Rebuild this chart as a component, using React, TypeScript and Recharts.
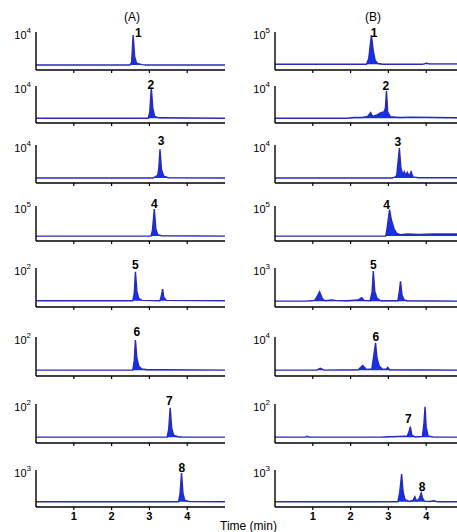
import { Area, AreaChart, ReferenceDot, ReferenceLine, XAxis, YAxis } from "recharts";

type Pt = [number, number];

// retention time (min) vs. normalised signal
const traceA1: Pt[] = [[0, 0.13], [2.48, 0.13], [2.53, 0.2], [2.57, 0.92], [2.61, 0.35], [2.66, 0.18], [2.8, 0.14], [2.9, 0.13], [5, 0.13]];
const traceA2: Pt[] = [[0, 0.13], [2.97, 0.13], [3.01, 0.3], [3.05, 0.95], [3.09, 0.4], [3.14, 0.18], [3.25, 0.14], [5, 0.13]];
const traceA3: Pt[] = [[0, 0.13], [3.1, 0.13], [3.15, 0.16], [3.22, 0.2], [3.25, 0.4], [3.28, 0.89], [3.32, 0.35], [3.38, 0.18], [3.5, 0.14], [5, 0.13]];
const traceA4: Pt[] = [[0, 0.14], [3.04, 0.14], [3.08, 0.3], [3.13, 0.91], [3.17, 0.35], [3.22, 0.18], [3.32, 0.15], [5, 0.14]];
const traceA5: Pt[] = [[0, 0.16], [2.56, 0.16], [2.6, 0.35], [2.63, 0.9], [2.67, 0.4], [2.72, 0.22], [2.8, 0.17], [3.28, 0.16], [3.32, 0.3], [3.35, 0.46], [3.38, 0.25], [3.45, 0.17], [5, 0.16]];
const traceA6: Pt[] = [[0, 0.15], [2.56, 0.15], [2.6, 0.4], [2.63, 0.92], [2.67, 0.45], [2.72, 0.25], [2.8, 0.18], [2.95, 0.16], [3.4, 0.16], [5, 0.15]];
const traceA7: Pt[] = [[0, 0.15], [3.47, 0.15], [3.51, 0.35], [3.55, 0.9], [3.59, 0.38], [3.64, 0.2], [3.75, 0.16], [3.9, 0.15], [5, 0.15]];
const traceA8: Pt[] = [[0, 0.14], [3.77, 0.14], [3.81, 0.35], [3.85, 0.92], [3.89, 0.35], [3.94, 0.18], [4.05, 0.15], [5, 0.14]];

const traceB1: Pt[] = [[0, 0.15], [2.42, 0.15], [2.48, 0.3], [2.55, 0.92], [2.6, 0.5], [2.65, 0.25], [2.72, 0.17], [2.85, 0.15], [3.9, 0.15], [4.0, 0.18], [4.1, 0.16], [5, 0.16]];
const traceB2: Pt[] = [[0, 0.13], [1.9, 0.13], [2.1, 0.15], [2.3, 0.15], [2.45, 0.18], [2.53, 0.28], [2.58, 0.18], [2.7, 0.22], [2.8, 0.28], [2.88, 0.3], [2.92, 0.4], [2.95, 0.87], [2.98, 0.3], [3.05, 0.17], [3.3, 0.15], [3.6, 0.16], [5, 0.14]];
const traceB3: Pt[] = [[0, 0.13], [3.1, 0.13], [3.18, 0.16], [3.22, 0.2], [3.26, 0.6], [3.29, 0.92], [3.33, 0.4], [3.38, 0.22], [3.42, 0.3], [3.46, 0.2], [3.5, 0.28], [3.55, 0.18], [3.6, 0.3], [3.65, 0.16], [3.8, 0.14], [5, 0.14]];
const traceB4: Pt[] = [[0, 0.14], [2.93, 0.14], [2.97, 0.4], [3.03, 0.9], [3.08, 0.6], [3.15, 0.35], [3.22, 0.22], [3.32, 0.18], [3.5, 0.2], [3.8, 0.19], [4.2, 0.2], [5, 0.2]];
const traceB5: Pt[] = [[0, 0.15], [0.8, 0.15], [1.05, 0.17], [1.12, 0.28], [1.18, 0.39], [1.25, 0.22], [1.32, 0.16], [1.5, 0.18], [1.6, 0.17], [1.9, 0.16], [2.2, 0.18], [2.29, 0.24], [2.36, 0.17], [2.52, 0.16], [2.57, 0.4], [2.6, 0.92], [2.64, 0.4], [2.7, 0.22], [2.8, 0.16], [3.25, 0.16], [3.29, 0.4], [3.32, 0.66], [3.36, 0.3], [3.42, 0.18], [3.5, 0.16], [5, 0.15]];
const traceB6: Pt[] = [[0, 0.15], [1.1, 0.15], [1.2, 0.2], [1.3, 0.15], [2.2, 0.16], [2.32, 0.27], [2.42, 0.17], [2.56, 0.18], [2.61, 0.5], [2.66, 0.85], [2.7, 0.45], [2.76, 0.25], [2.85, 0.17], [2.95, 0.18], [2.98, 0.22], [3.03, 0.16], [5, 0.15]];
const traceB7: Pt[] = [[0, 0.15], [0.8, 0.15], [0.85, 0.17], [0.9, 0.15], [2.8, 0.15], [3.0, 0.16], [3.3, 0.17], [3.5, 0.18], [3.55, 0.3], [3.58, 0.42], [3.62, 0.2], [3.7, 0.16], [3.9, 0.17], [3.94, 0.5], [3.97, 0.93], [4.0, 0.4], [4.05, 0.18], [4.2, 0.15], [5, 0.15]];
const traceB8: Pt[] = [[0, 0.14], [3.25, 0.14], [3.3, 0.4], [3.35, 0.89], [3.39, 0.4], [3.44, 0.2], [3.55, 0.15], [3.65, 0.18], [3.7, 0.28], [3.74, 0.17], [3.8, 0.2], [3.84, 0.3], [3.87, 0.38], [3.9, 0.25], [3.95, 0.16], [4.1, 0.15], [4.2, 0.17], [4.3, 0.14], [5, 0.14]];

const tracesA = [traceA1, traceA2, traceA3, traceA4, traceA5, traceA6, traceA7, traceA8];
const tracesB = [traceB1, traceB2, traceB3, traceB4, traceB5, traceB6, traceB7, traceB8];

// y-axis scale exponents (10^n)
const expA = [4, 4, 4, 5, 2, 2, 2, 3];
const expB = [5, 4, 4, 5, 3, 4, 2, 3];

// compound numbers and where they sit (time, signal)
const peakLabelsA: [string, number, number][] = [["1", 2.71, 0.97], ["2", 3.04, 1.04], ["3", 3.31, 1.1], ["4", 3.13, 1.07], ["5", 2.63, 1.08], ["6", 2.67, 1.14], ["7", 3.53, 1.08], ["8", 3.86, 1.07]];
const peakLabelsB: [string, number, number][] = [["1", 2.62, 0.97], ["2", 2.93, 1.0], ["3", 3.25, 1.08], ["4", 2.95, 1.05], ["5", 2.6, 1.08], ["6", 2.67, 1.0], ["7", 3.53, 0.62], ["8", 3.89, 0.54]];

const timeTicks = [1, 2, 3, 4];

const ROW_TOP = [32, 86, 145, 206, 268, 337, 404, 470];
const ROW_BOTTOM = [70, 123, 183, 241, 307, 376, 443, 507];
const COL_X0 = [36, 275];
const PLOT_W = 189;
const M_TOP = 18;
const FONT = "'Liberation Sans', Arial, Helvetica, sans-serif";

function Panel({ trace, exp, label, x0, top, bottom, showTicks }: {
  trace: Pt[];
  exp: number;
  label: [string, number, number];
  x0: number;
  top: number;
  bottom: number;
  showTicks: boolean;
}) {
  const data = trace.map(([t, v]) => ({ t, v }));
  const axisH = showTicks ? 22 : 6;
  const plotH = bottom - top;
  return (
    <>
      <div style={{ position: "absolute", left: x0 - 45, width: 40, top: top - 2, textAlign: "right", fontSize: 11, lineHeight: "11px", color: "#000" }}>
        10<span style={{ fontSize: 8, position: "relative", top: -6 }}>{exp}</span>
      </div>
      <div style={{ position: "absolute", left: x0 - 2, top: top - M_TOP }}>
        <AreaChart width={2 + PLOT_W + 8} height={M_TOP + plotH + axisH} data={data} margin={{ top: M_TOP, right: 8, left: 2, bottom: 0 }}>
          <XAxis
            type="number"
            dataKey="t"
            domain={[0, 5]}
            ticks={timeTicks}
            allowDataOverflow
            height={axisH}
            stroke="#000"
            axisLine={{ stroke: "#000", strokeWidth: 1.4 }}
            tickLine={{ stroke: "#000", strokeWidth: 1.2 }}
            tickSize={3}
            tickFormatter={(v) => (showTicks ? String(v) : "")}
            tick={{ fill: "#000", fontSize: 11, fontWeight: "bold" }}
          />
          <YAxis hide domain={[0, 1]} allowDataOverflow />
          <Area
            type="linear"
            dataKey="v"
            baseValue={trace[0][1]}
            stroke="#2a2ab8"
            strokeWidth={1.4}
            fill="#1530e8"
            fillOpacity={1}
            isAnimationActive={false}
            dot={false}
            activeDot={false}
          />
          <ReferenceLine x={0} stroke="#000" strokeWidth={1.4} />
          <ReferenceDot
            x={label[1]}
            y={label[2]}
            r={1}
            fill="none"
            stroke="none"
            ifOverflow="visible"
            label={{ value: label[0], position: "center", fill: "#000", fontSize: 12, fontWeight: 600 }}
          />
        </AreaChart>
      </div>
    </>
  );
}

export default function App() {
  return (
    <div style={{ position: "absolute", left: 0, top: 0, width: 457, height: 532, overflow: "hidden", background: "#fff", fontFamily: FONT }}>
      <div style={{ position: "absolute", left: 112, width: 40, top: 10, textAlign: "center", fontSize: 12 }}>(A)</div>
      <div style={{ position: "absolute", left: 353, width: 40, top: 10, textAlign: "center", fontSize: 12 }}>(B)</div>
      {[tracesA, tracesB].map((traces, c) =>
        traces.map((trace, r) => (
          <Panel
            key={`${c}-${r}`}
            trace={trace}
            exp={(c === 0 ? expA : expB)[r]}
            label={(c === 0 ? peakLabelsA : peakLabelsB)[r]}
            x0={COL_X0[c]}
            top={ROW_TOP[r]}
            bottom={ROW_BOTTOM[r]}
            showTicks={r === 7}
          />
        ))
      )}
      <div style={{ position: "absolute", left: 220, top: 519, fontSize: 12 }}>Time (min)</div>
    </div>
  );
}
